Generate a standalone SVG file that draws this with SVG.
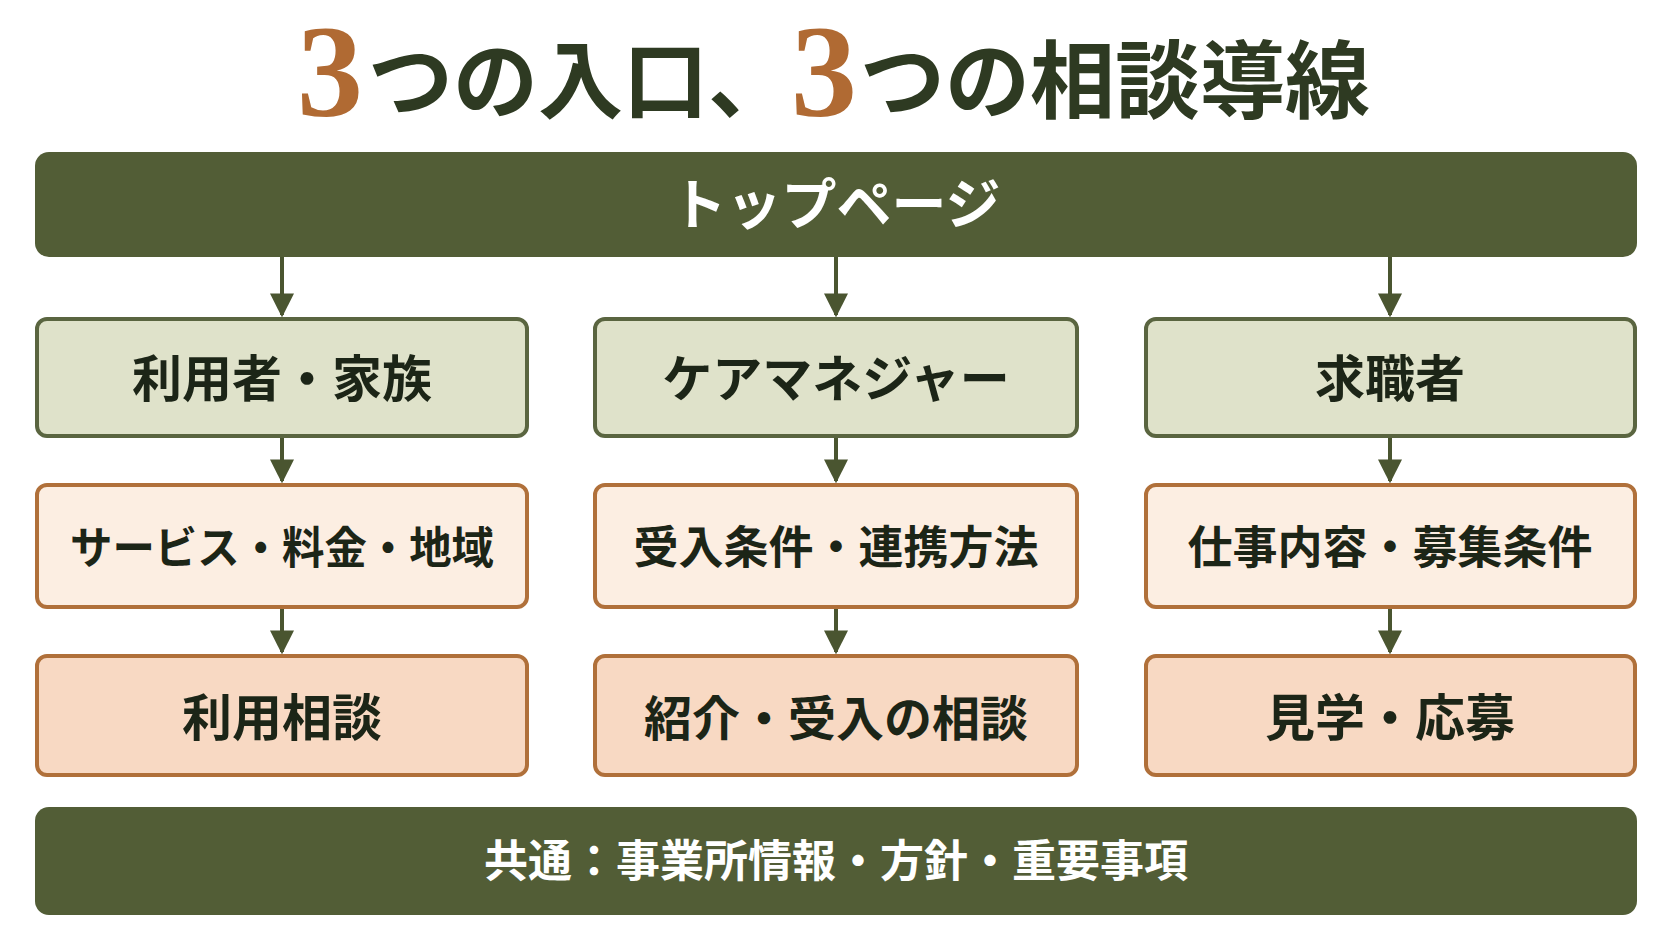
<svg xmlns="http://www.w3.org/2000/svg" width="1672" height="941" viewBox="0 0 1672 941">
<defs>
<style>
.jp{font-family:"Noto Sans CJK JP","Noto Sans CJK SC",sans-serif;font-weight:700;text-anchor:middle}
.tt{font-family:"Noto Sans CJK JP","Noto Sans CJK SC",sans-serif;font-weight:700;font-size:85px;fill:#2E3A22}
.num{font-family:"Liberation Serif",serif;font-weight:700;font-size:132px;fill:#B06A33;text-anchor:middle}
.bar{fill:#525D36}
.g1{fill:#DFE2CA;stroke:#5A6540;stroke-width:4}
.g2{fill:#FCEEE2;stroke:#B0703A;stroke-width:4}
.g3{fill:#F8D9C3;stroke:#B0703A;stroke-width:4}
.wt{fill:#FFFFFF}
.dk{fill:#1C2517}
.conn line{stroke:#4A5530;stroke-width:4}
</style>
<marker id="ah" viewBox="0 0 10 10" refX="9" refY="5" markerWidth="6" markerHeight="6" markerUnits="strokeWidth" orient="auto">
<path d="M0,0 L10,5 L0,10 Z" fill="#4A5530"/>
</marker>
</defs>
<rect width="1672" height="941" fill="#FFFFFF"/>
<g id="title">
<text x="330" y="116" class="num">3</text>
<text x="368" y="112" class="tt">つの入口、</text>
<text x="824" y="116" class="num">3</text>
<text x="860" y="112" class="tt">つの相談導線</text>
</g>
<g id="top">
<rect class="bar" x="35" y="152" width="1602" height="105" rx="14"/>
<text x="836" y="224" class="jp wt" font-size="55">トップページ</text>
</g>
<g id="conns" class="conn">
<line x1="282" y1="257" x2="282" y2="315" marker-end="url(#ah)"/>
<line x1="836" y1="257" x2="836" y2="315" marker-end="url(#ah)"/>
<line x1="1390" y1="257" x2="1390" y2="315" marker-end="url(#ah)"/>
<line x1="282" y1="437" x2="282" y2="481" marker-end="url(#ah)"/>
<line x1="836" y1="437" x2="836" y2="481" marker-end="url(#ah)"/>
<line x1="1390" y1="437" x2="1390" y2="481" marker-end="url(#ah)"/>
<line x1="282" y1="607" x2="282" y2="652" marker-end="url(#ah)"/>
<line x1="836" y1="607" x2="836" y2="652" marker-end="url(#ah)"/>
<line x1="1390" y1="607" x2="1390" y2="652" marker-end="url(#ah)"/>
</g>
<g id="n-user">
<rect class="g1" x="37" y="319" width="490" height="117" rx="10"/>
<text x="282" y="397" class="jp dk" font-size="50">利用者・家族</text>
</g>
<g id="n-cm">
<rect class="g1" x="595" y="319" width="482" height="117" rx="10"/>
<text x="836" y="397" class="jp dk" font-size="50">ケアマネジャー</text>
</g>
<g id="n-job">
<rect class="g1" x="1146" y="319" width="489" height="117" rx="10"/>
<text x="1390" y="397" class="jp dk" font-size="50">求職者</text>
</g>
<g id="n-user2">
<rect class="g2" x="37" y="485" width="490" height="122" rx="10"/>
<text x="282" y="564" class="jp dk" font-size="44" textLength="424" lengthAdjust="spacingAndGlyphs">サービス・料金・地域</text>
</g>
<g id="n-cm2">
<rect class="g2" x="595" y="485" width="482" height="122" rx="10"/>
<text x="836" y="564" class="jp dk" font-size="45">受入条件・連携方法</text>
</g>
<g id="n-job2">
<rect class="g2" x="1146" y="485" width="489" height="122" rx="10"/>
<text x="1390" y="564" class="jp dk" font-size="45">仕事内容・募集条件</text>
</g>
<g id="n-user3">
<rect class="g3" x="37" y="656" width="490" height="119" rx="10"/>
<text x="282" y="736" class="jp dk" font-size="50">利用相談</text>
</g>
<g id="n-cm3">
<rect class="g3" x="595" y="656" width="482" height="119" rx="10"/>
<text x="836" y="736" class="jp dk" font-size="48">紹介・受入の相談</text>
</g>
<g id="n-job3">
<rect class="g3" x="1146" y="656" width="489" height="119" rx="10"/>
<text x="1390" y="736" class="jp dk" font-size="50">見学・応募</text>
</g>
<g id="common">
<rect class="bar" x="35" y="807" width="1602" height="108" rx="14"/>
<text x="836" y="877" class="jp wt" font-size="44">共通：事業所情報・方針・重要事項</text>
</g>
</svg>
